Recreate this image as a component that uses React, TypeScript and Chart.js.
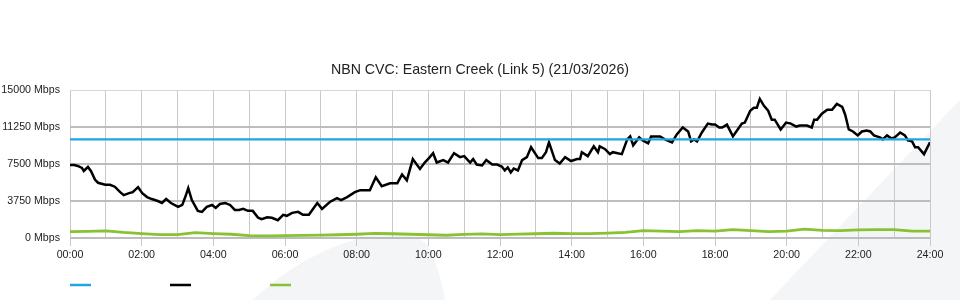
import React, { useEffect, useRef } from "react";
import { Chart, registerables } from "chart.js";

Chart.register(...registerables);

const TITLE = "NBN CVC: Eastern Creek (Link 5) (21/03/2026)";

// x values in minutes after midnight
const capacityTimes = [0, 1440];
const capacityMbps = [10000, 10000];

const trafficTimes = [
  0, 7, 13, 20, 23, 30, 35, 42, 47, 59, 67, 75, 84, 90, 99, 105, 114, 121, 129, 137,
  147, 154, 161, 169, 181, 188, 193, 198, 204, 214, 221, 229, 238, 244, 251, 260, 268, 276, 283, 290,
  298, 306, 315, 321, 330, 338, 348, 357, 363, 372, 382, 390, 400, 414, 422, 435, 447, 454, 464, 477,
  486, 491, 502, 512, 522, 536, 548, 556, 564, 574, 586, 594, 601, 608, 614, 625, 633, 643, 653, 660,
  670, 675, 681, 690, 697, 707, 715, 723, 728, 733, 738, 743, 750, 757, 765, 772, 784, 790, 797, 802,
  812, 820, 829, 839, 849, 854, 857, 867, 877, 884, 887, 896, 904, 909, 924, 933, 938, 943, 953, 959,
  968, 973, 988, 996, 1008, 1016, 1026, 1035, 1040, 1045, 1050, 1058, 1068, 1075, 1080, 1087, 1092, 1100, 1110, 1118,
  1125, 1130, 1139, 1145, 1150, 1155, 1162, 1169, 1175, 1180, 1190, 1199, 1207, 1216, 1222, 1234, 1242, 1246, 1251, 1259,
  1268, 1276, 1284, 1293, 1298, 1304, 1311, 1319, 1326, 1334, 1340, 1346, 1356, 1361, 1368, 1375, 1381, 1390, 1398, 1403,
  1410, 1415, 1420, 1430, 1440,
];
const trafficMbps = [
  7400, 7400, 7300, 7100, 6800, 7200, 6800, 5900, 5600, 5400, 5400, 5200, 4650, 4350, 4550, 4650, 5150, 4550, 4150, 3950,
  3750, 3550, 3950, 3550, 3150, 3350, 4150, 5050, 3850, 2750, 2650, 3150, 3350, 3050, 3450, 3550, 3350, 2850, 2850, 2950,
  2750, 2750, 2050, 1900, 2100, 2050, 1800, 2350, 2250, 2550, 2650, 2350, 2350, 3550, 2950, 3650, 4050, 3850, 4150, 4650,
  4850, 4850, 4850, 6150, 5250, 5550, 5550, 6450, 5850, 8000, 7000, 7650, 8100, 8600, 7650, 7900, 7650, 8600, 8200, 8300,
  7650, 8000, 7450, 7350, 7900, 7450, 7450, 7250, 6850, 7150, 6650, 7050, 6850, 7900, 8200, 9200, 8100, 8100, 8700, 9700,
  7900, 7550, 8200, 7800, 8000, 8000, 8700, 8300, 9300, 8700, 9300, 9000, 8500, 8700, 8500, 10000, 10300, 9400, 10200, 9900,
  9600, 10300, 10300, 10000, 9700, 10500, 11200, 10800, 9800, 10000, 9800, 10700, 11600, 11500, 11500, 11200, 11200, 11500, 10300, 11000,
  11600, 11700, 12900, 13200, 13200, 14100, 13400, 12900, 12000, 12000, 11000, 11700, 11600, 11300, 11400, 11400, 11200, 12000, 12000, 12600,
  13000, 13000, 13600, 13300, 12500, 11000, 10800, 10400, 10800, 10900, 10800, 10400, 10200, 10000, 10400, 10100, 10200, 10700, 10400, 9900,
  9800, 9200, 9200, 8500, 9700,
];

const otherTimes = [
  0, 30, 60, 90, 120, 150, 180, 210, 240, 270, 300, 330, 360, 390, 420, 450, 480, 510, 540, 570,
  600, 630, 660, 690, 720, 750, 780, 810, 840, 870, 900, 930, 960, 990, 1020, 1050, 1080, 1110, 1140, 1170,
  1200, 1230, 1260, 1290, 1320, 1350, 1380, 1410, 1440,
];
const otherMbps = [
  650, 680, 720, 560, 450, 350, 350, 550, 450, 380, 250, 220, 250, 270, 300, 330, 380, 470, 430, 380,
  330, 280, 370, 420, 350, 400, 430, 480, 450, 450, 500, 580, 750, 700, 650, 750, 700, 850, 750, 650,
  700, 900, 780, 750, 820, 850, 850, 700, 700,
];

const xTickStep = 60;
const xLabelStep = 120;
const yTicks = [0, 3750, 7500, 11250, 15000];

const COLORS = { capacity: "#1fa6e0", traffic: "#000000", other: "#86c232" };

const zip = (xs: number[], ys: number[]) => xs.map((x, i) => ({ x, y: ys[i] }));

const FONT = '"Liberation Sans", Arial, Helvetica, sans-serif';

const backgroundPlugin = {
  id: "watermark",
  beforeDraw(chart: any) {
    const { ctx, width, height } = chart;
    ctx.save();
    ctx.fillStyle = "#ffffff";
    ctx.fillRect(0, 0, width, height);
    ctx.fillStyle = "#f4f5f7";
    // right diagonal band
    ctx.beginPath();
    ctx.moveTo(770, height);
    ctx.lineTo(width, 100);
    ctx.lineTo(width, height);
    ctx.closePath();
    ctx.fill();
    // left curved shape
    ctx.beginPath();
    ctx.moveTo(253, height);
    ctx.quadraticCurveTo(300, 255, 360, 238);
    ctx.quadraticCurveTo(405, 226, 428, 245);
    ctx.quadraticCurveTo(440, 270, 445, height);
    ctx.closePath();
    ctx.fill();
    ctx.restore();
  },
};

const legendPlugin = {
  id: "lineLegend",
  afterDraw(chart: any) {
    const { ctx } = chart;
    const left = chart.chartArea.left;
    ctx.save();
    chart.data.datasets.forEach((ds: any, i: number) => {
      ctx.strokeStyle = ds.borderColor;
      ctx.lineWidth = 2.5;
      ctx.beginPath();
      ctx.moveTo(left + i * 100, 285);
      ctx.lineTo(left + i * 100 + 21, 285);
      ctx.stroke();
    });
    ctx.restore();
  },
};

export default function App() {
  const ref = useRef<HTMLCanvasElement | null>(null);

  useEffect(() => {
    document.body.style.margin = "0";
    if (!ref.current) return;
    const chart = new Chart(ref.current, {
      type: "line",
      data: {
        datasets: [
          { label: "", data: zip(capacityTimes, capacityMbps), borderColor: COLORS.capacity, borderWidth: 2.2, pointRadius: 0 },
          { label: "", data: zip(trafficTimes, trafficMbps), borderColor: COLORS.traffic, borderWidth: 2.5, pointRadius: 0 },
          { label: "", data: zip(otherTimes, otherMbps), borderColor: COLORS.other, borderWidth: 2.8, pointRadius: 0 },
        ],
      },
      options: {
        animation: false,
        responsive: false,
        maintainAspectRatio: false,
        layout: { padding: { left: 0, right: 0, top: 0, bottom: 32 } },
        plugins: {
          legend: { display: false },
          tooltip: { enabled: false },
          title: {
            display: true,
            text: TITLE,
            color: "#222",
            font: { family: FONT, size: 14.2, weight: "normal" },
            padding: { top: 61.5, bottom: 11.5 },
          },
        },
        scales: {
          x: {
            type: "linear",
            min: 0,
            max: 1440,
            afterFit: (s: any) => { s.height = 30; },
            ticks: {
              stepSize: xTickStep,
              autoSkip: false,
              maxRotation: 0,
              padding: 3,
              color: "#222",
              font: { family: FONT, size: 10.67 },
              callback: (v: any) => {
                const n = Number(v);
                if (n % xLabelStep !== 0) return "";
                const h = Math.round(n / 60);
                return (h < 10 ? "0" : "") + h + ":00";
              },
            },
            grid: {
              color: "#c9c9c9",
              lineWidth: 1,
              tickLength: 8,
              tickColor: (c: any) => (c.tick && c.tick.value % xLabelStep === 0 ? "#c9c9c9" : "rgba(0,0,0,0)"),
            },
            border: { display: false },
          },
          y: {
            min: 0,
            max: 15000,
            afterBuildTicks: (s: any) => { s.ticks = yTicks.map((v) => ({ value: v })); },
            afterFit: (s: any) => { s.width = 70; },
            ticks: {
              padding: 10,
              color: "#222",
              font: { family: FONT, size: 10.67 },
              callback: (v: any) => v + " Mbps",
            },
            grid: {
              drawTicks: false,
              color: (c: any) => (c.tick && c.tick.value === 15000 ? "#d6d6d6" : "#bdbdbd"),
              lineWidth: (c: any) => (c.tick && c.tick.value === 15000 ? 1 : 2),
            },
            border: { display: false },
          },
          rightPad: {
            position: "right",
            min: 0,
            max: 1,
            afterFit: (s: any) => { s.width = 30; },
            ticks: { display: false },
            grid: { display: false, drawTicks: false },
            border: { display: false },
          },
        },
      },
      plugins: [backgroundPlugin, legendPlugin],
    });
    return () => chart.destroy();
  }, []);

  return (
    <div style={{ width: 960, height: 300, position: "relative" }}>
      <canvas ref={ref} width={960} height={300} style={{ display: "block", width: 960, height: 300 }} />
    </div>
  );
}
